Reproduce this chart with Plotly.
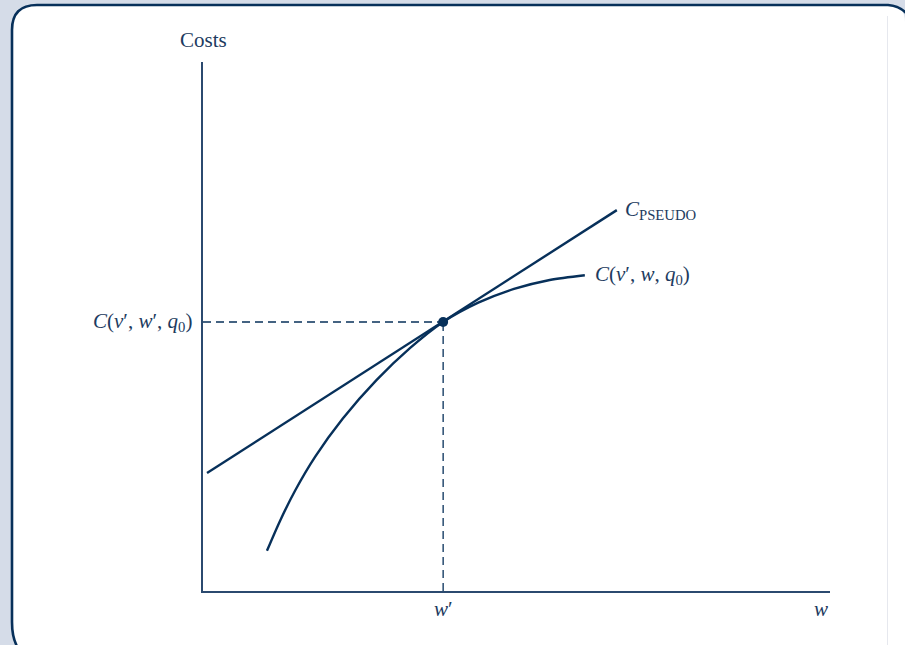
import plotly.graph_objects as go

# ---- data (axis units 0..10) ----
w_curve = [1.02, 1.23, 1.47, 1.79, 2.23, 2.77, 3.30, 3.83, 4.39, 4.96, 5.53, 6.09]
c_curve = [0.76, 1.33, 1.90, 2.54, 3.26, 3.99, 4.59, 5.085, 5.45, 5.71, 5.88, 5.97]
w_pseudo = [0.064, 6.60]
c_pseudo = [2.23, 7.20]
w_prime = 3.83
c_prime = 5.085

W, H = 905, 645
NAVY = "#07305a"
AXIS = "#2b4a6f"
TXT = "#1d3b60"
FONT = "Liberation Serif"
FS = 21

def px(x, y):
    return x / W, 1 - y / H

fig = go.Figure()

# dashed guides
fig.add_trace(go.Scatter(x=[0, w_prime], y=[c_prime, c_prime], mode="lines",
                         line=dict(color=NAVY, width=1.3, dash="8px,5px"), hoverinfo="skip"))
fig.add_trace(go.Scatter(x=[w_prime, w_prime], y=[0, c_prime], mode="lines",
                         line=dict(color=NAVY, width=1.3, dash="8px,5px"), hoverinfo="skip"))
# pseudo cost line
fig.add_trace(go.Scatter(x=w_pseudo, y=c_pseudo, mode="lines",
                         line=dict(color=NAVY, width=2.4)))
# cost curve
fig.add_trace(go.Scatter(x=w_curve, y=c_curve, mode="lines",
                         line=dict(color=NAVY, width=2.4, shape="spline", smoothing=0.8)))
# tangency point
fig.add_trace(go.Scatter(x=[w_prime], y=[c_prime], mode="markers",
                         marker=dict(color=NAVY, size=10)))

def P(x, y):
    a, b = px(x, y)
    return f"{a:.5f},{b:.5f}"

fill_path = (f"M {P(37,660)} Q {P(12,660)} {P(12,628)} L {P(12,30)} Q {P(12,5)} {P(37,5)} "
             f"L {P(888,5)} Q {P(905,5)} {P(905,22)} L {P(905,660)} Z")
border_path = (f"M {P(30,660)} Q {P(12,650)} {P(12,622)} L {P(12,30)} Q {P(12,5)} {P(37,5)} "
               f"L {P(888,5)} Q {P(900,6)} {P(907,14)}")
shapes = [
    dict(type="path", xref="paper", yref="paper", path=fill_path,
         fillcolor="white", line=dict(width=0), layer="below"),
    dict(type="path", xref="paper", yref="paper", path=border_path,
         line=dict(color=NAVY, width=2.6), layer="below"),
    dict(type="line", xref="paper", yref="paper", x0=887.5/W, x1=887.5/W, y0=0, y1=1 - 16/H,
         line=dict(color="#e6e8ee", width=1), layer="below"),
]

annots = [
    dict(x=0, y=10, xref="x", yref="y", text="Costs", showarrow=False,
         xanchor="center", yanchor="bottom", yshift=8),
    dict(x=0, y=c_prime, xref="x", yref="y",
         text="<i>C</i>(<i>v</i>′, <i>w</i>′, <i>q</i><sub>0</sub>)", showarrow=False,
         xanchor="right", yanchor="middle", xshift=-9),
    dict(x=w_prime, y=0, xref="x", yref="y", text="<i>w</i>′", showarrow=False,
         xanchor="center", yanchor="top", yshift=-4),
    dict(x=10, y=0, xref="x", yref="y", text="<i>w</i>", showarrow=False,
         xanchor="right", yanchor="top", yshift=-4),
    dict(x=w_pseudo[1], y=c_pseudo[1], xref="x", yref="y",
         text="<i>C</i><sub>PSEUDO</sub>", showarrow=False,
         xanchor="left", yanchor="middle", xshift=6),
    dict(x=w_curve[-1], y=c_curve[-1], xref="x", yref="y",
         text="<i>C</i>(<i>v</i>′, <i>w</i>, <i>q</i><sub>0</sub>)", showarrow=False,
         xanchor="left", yanchor="middle", xshift=8),
]

axis_common = dict(showgrid=False, zeroline=False, showticklabels=False, ticks="",
                   showline=True, linecolor=AXIS, linewidth=1.6, fixedrange=True)
fig.update_layout(
    width=W, height=H,
    margin=dict(l=0, r=0, t=0, b=0),
    paper_bgcolor="#d5dce8",
    plot_bgcolor="rgba(0,0,0,0)",
    showlegend=False,
    hovermode=False,
    font=dict(family=FONT, color=TXT, size=FS),
    xaxis=dict(range=[0, 10], domain=[203 / W, 830 / W], anchor="y", **axis_common),
    yaxis=dict(range=[0, 10], domain=[54 / H, (H - 62) / H], anchor="x", **axis_common),
    shapes=shapes,
    annotations=annots,
)

fig.write_html("out.html", config={"displayModeBar": False},
               post_script="document.body.style.margin='0px';document.body.style.overflow='hidden';")
